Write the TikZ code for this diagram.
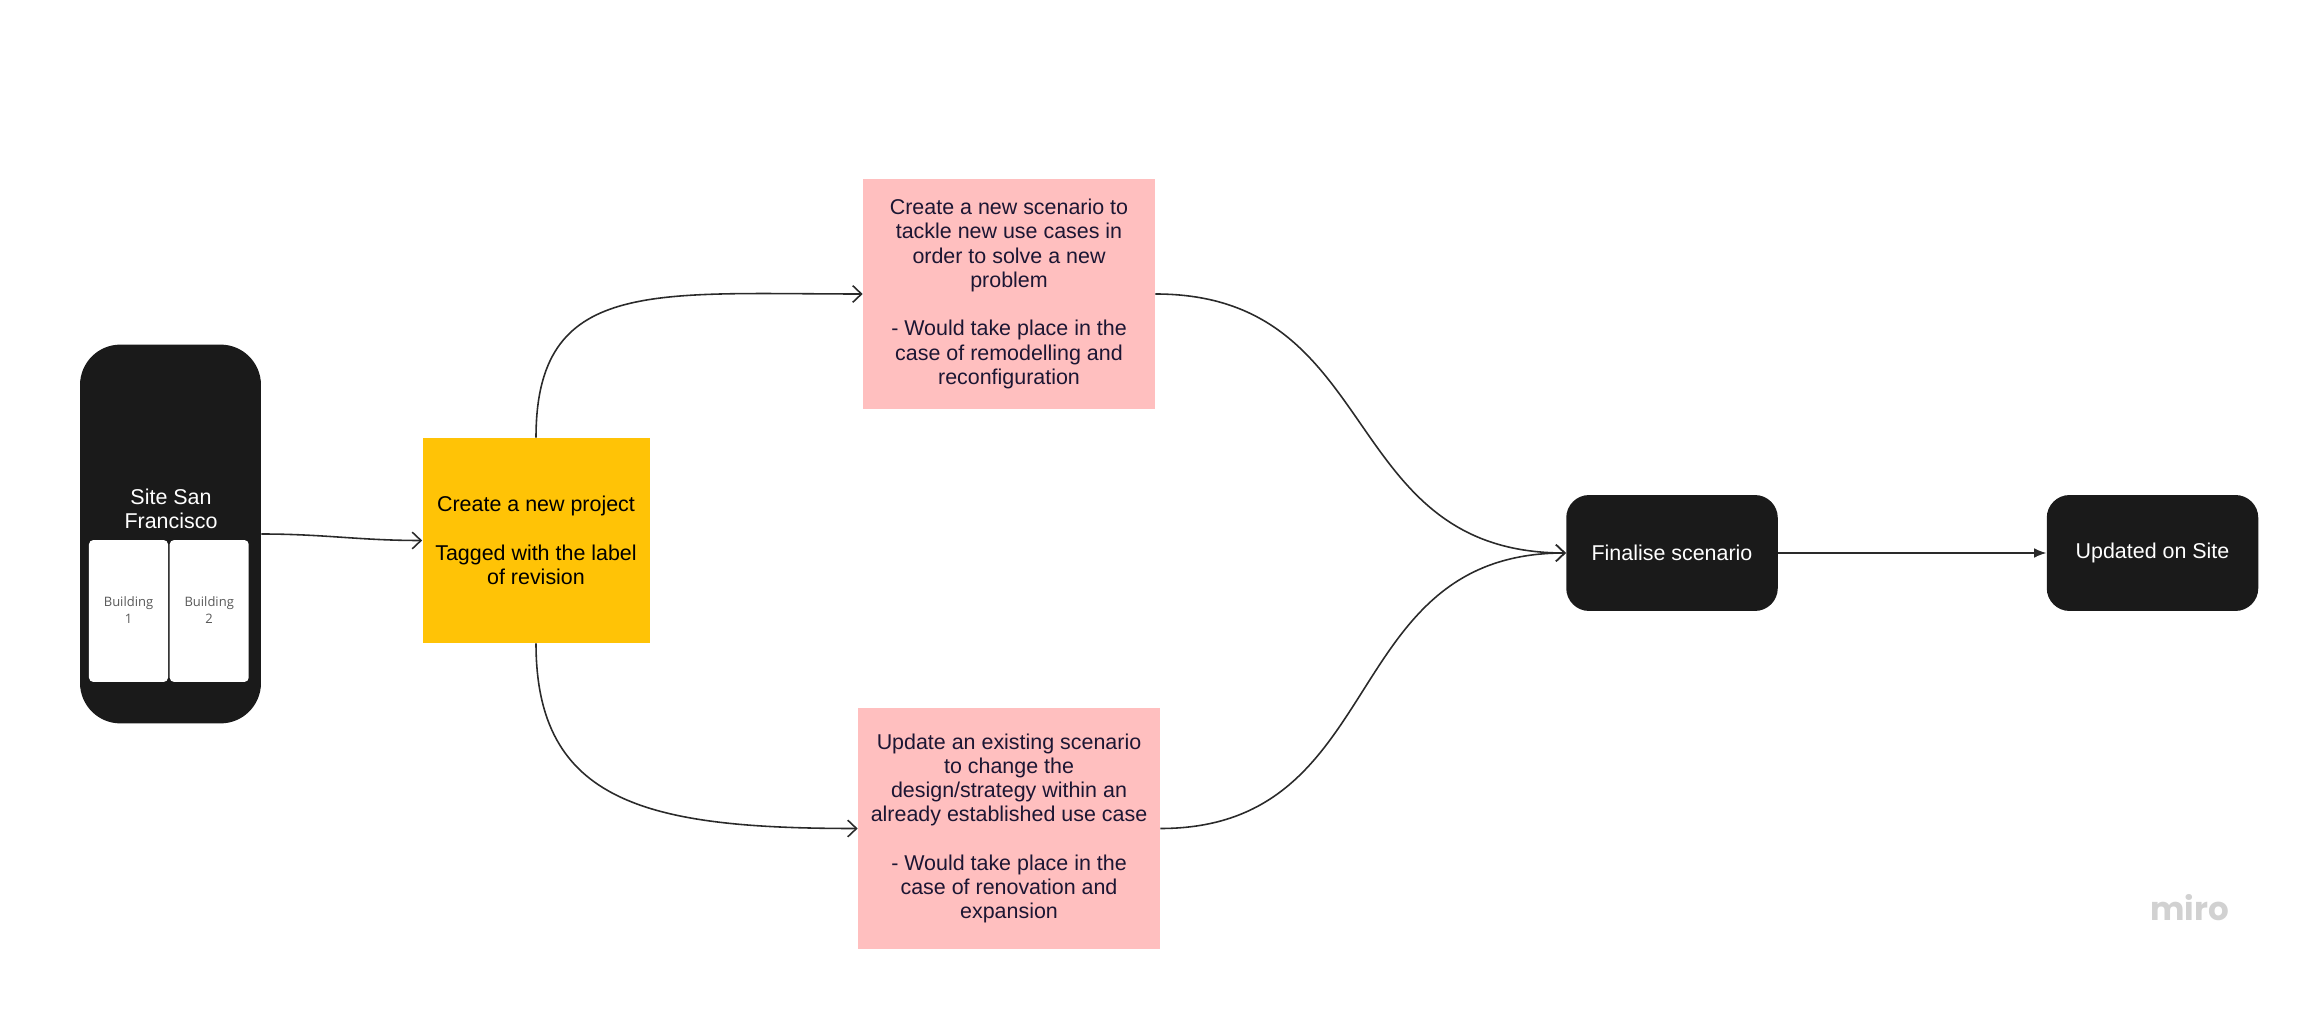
\documentclass[tikz,border=0pt]{standalone}
\usepackage{fontspec}
\setmainfont{Liberation Sans}
\newfontfamily\buildingfont{Open Sans}
\newfontfamily\logofont{Poppins}
\usetikzlibrary{arrows.meta}
\definecolor{darkbox}{HTML}{1A1A1A}
\definecolor{pinkbox}{HTML}{FFBFBF}
\definecolor{yellowbox}{HTML}{FFC306}
\definecolor{inktext}{HTML}{1C1633}
\definecolor{wirecol}{HTML}{2A2A2A}
\tikzset{
    boxtext/.style={font=\fontsize{12.2}{13.8}\selectfont, align=center, inner sep=0pt},
    darkcard/.style={boxtext, fill=darkbox, text=white, rounded corners=13pt, minimum width=120.4pt, minimum height=66pt},
    note/.style={boxtext, text=inktext, fill=pinkbox},
    wire/.style={draw=wirecol, line width=0.9pt, -{Straight Barb[length=5pt,width=9.5pt]}},
}
\begin{document}
\begin{tikzpicture}[x=0.02cm,y=0.02cm]
    \useasboundingbox (0,0) rectangle (2314,1008);
    \node[boxtext, fill=darkbox, rounded corners=23pt, minimum width=103pt, minimum height=215.6pt] (site) at (170.5,474) {};
    \node[boxtext, text=white] (sitelabel) at (171,499.5) {Site San\\Francisco};
    \foreach \b/\x in {1/128.5,2/209.2} {
        \node[fill=white, rounded corners=2.5pt, minimum width=45pt, minimum height=80.8pt, inner sep=0pt] (building\b) at (\x,397) {};
        \node[text=black!65, align=center, inner sep=0pt, font=\buildingfont\fontsize{7.4}{10}\selectfont] (buildinglabel\b) at (\x,398) {Building\\\b};
    }
    \node[boxtext, text=black, fill=yellowbox, minimum width=129.2pt, minimum height=116.6pt] (project) at (536,467.5) {Create a new project\\[13.8pt]Tagged with the label\\of revision};
    \node[note, minimum width=166.2pt, minimum height=130.9pt] (newscenario) at (1009,714) {Create a new scenario to\\tackle new use cases in\\order to solve a new\\problem\\[13.8pt]- Would take place in the\\case of remodelling and\\reconfiguration};
    \node[note, minimum width=171.9pt, minimum height=137.1pt] (oldscenario) at (1009,179.5) {Update an existing scenario\\to change the\\design/strategy within an\\already established use case\\[13.8pt]- Would take place in the\\case of renovation and\\expansion};
    \node[darkcard] (finalise) at (1672,455) {Finalise scenario};
    \node[darkcard] (updated) at (2152.5,455) {Updated on Site};
    \node[text=black!18, inner sep=0pt, font=\logofont\bfseries\fontsize{18.5}{19}\selectfont] (miro) at (2189.5,100) {miro};
    \draw[wire] (site.east) to[out=0,in=180] (project.west);
    \draw[wire] (project.north) .. controls +(0,160) and +(-210,0) .. (newscenario.west);
    \draw[wire] (project.south) .. controls +(0,-160) and +(-210,0) .. (oldscenario.west);
    \draw[wire] (newscenario.east) .. controls +(230,0) and +(-230,0) .. (finalise.west);
    \draw[wire] (oldscenario.east) .. controls +(230,0) and +(-230,0) .. (finalise.west);
    \draw[draw=wirecol, line width=0.9pt, -{Latex[length=7pt,width=5.5pt]}] (finalise.east) -- (updated.west);
\end{tikzpicture}
\end{document}
